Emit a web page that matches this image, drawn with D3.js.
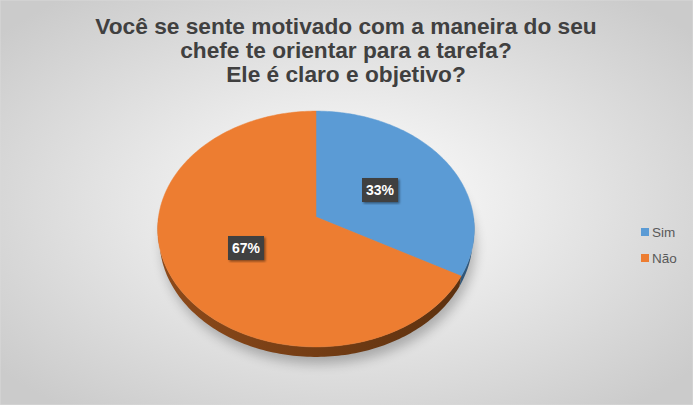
<!DOCTYPE html>
<meta charset="utf-8">
<script src="https://d3js.org/d3.v7.min.js"></script>
<style>
body { margin: 0; }
text { font-family: "Liberation Sans", Arial, sans-serif; }
.titleText { font-size: 22.7px; font-weight: bold; fill: #404040; }
.legend text { font-size: 13.5px; fill: #595959; }
.pctLabel { font-size: 14px; font-weight: bold; fill: #fff; }
</style>
<body>
<div id="chart"></div>
<script>
  // data
  const categories = ["Sim", "Não"];
  const values = [33, 67];
  const colors = ["#5B9BD5", "#ED7D31"];
  const sideColors = [["#3c6e9c", "#2f5679"], ["#8e4a1a", "#5a300f"]];
  const titleLines = ["Você se sente motivado com a maneira do seu", "chefe te orientar para a tarefa?", "Ele é claro e objetivo?"];

  const width = 693, height = 405;

  // fake 3d projection
  const cx = 316, cy = 217;
  const D = 6.6, F = 157.5 * 6.6;
  const phi = 47.8 * Math.PI / 180;
  const depthH = 0.1;

  function project(theta, y) {
    // theta clockwise from the far side (top of screen), y = height (0 top, negative below)
    const X = Math.sin(theta), Z = Math.cos(theta);
    const dep = -y * Math.sin(phi) + Z * Math.cos(phi) + D;
    const v = y * Math.cos(phi) + Z * Math.sin(phi);
    return [cx + F * X / dep, cy - F * v / dep];
  }

  const SVG = d3.select("#chart").append("svg")
    .attr("width", width)
    .attr("height", height);

  const defs = SVG.append("defs");

  const bg = defs.append("radialGradient")
    .attr("id", "bg")
    .attr("cx", "50%").attr("cy", "50%").attr("r", "65%");
  bg.append("stop").attr("offset", "0%").attr("stop-color", "#ffffff");
  bg.append("stop").attr("offset", "100%").attr("stop-color", "#cbcbcb");

  defs.append("filter").attr("id", "blur")
    .attr("x", "-20%").attr("y", "-20%").attr("width", "140%").attr("height", "140%")
    .append("feGaussianBlur").attr("stdDeviation", 6);

  defs.append("filter").attr("id", "lblShadow")
    .append("feDropShadow")
    .attr("dx", 1.5).attr("dy", 1.5).attr("stdDeviation", 1)
    .attr("flood-color", "#000").attr("flood-opacity", 0.45);

  sideColors.forEach((c, i) => {
    const g = defs.append("linearGradient").attr("id", "side" + i)
      .attr("gradientUnits", "userSpaceOnUse")
      .attr("x1", 158).attr("x2", 475).attr("y1", 0).attr("y2", 0);
    g.append("stop").attr("offset", "0%").attr("stop-color", c[0]);
    g.append("stop").attr("offset", "100%").attr("stop-color", c[1]);
  });

  SVG.append("rect")
    .attr("width", width).attr("height", height)
    .attr("fill", "url(#bg)")
    .attr("stroke", "#d9d9d9");

  // title
  SVG.selectAll(".titleText")
    .data(titleLines)
    .enter()
    .append("text")
    .classed("titleText", true)
    .attr("x", 346)
    .attr("y", (d, i) => 34 + i * 24)
    .attr("text-anchor", "middle")
    .text(d => d);

  const pie = d3.pie().sort(null)(values);
  const line = d3.line();

  function arcPts(a0, a1, y) {
    const n = Math.max(4, Math.ceil((a1 - a0) / 0.02));
    return d3.range(n + 1).map(k => project(a0 + (a1 - a0) * k / n, y));
  }

  // shadow under the pie
  const shadowPts = arcPts(0, 2 * Math.PI, -depthH).map(p => [p[0] + 3, p[1] + 7]);
  SVG.append("path")
    .attr("d", line(shadowPts) + "Z")
    .attr("fill", "#000")
    .attr("opacity", 0.25)
    .attr("filter", "url(#blur)");

  // side walls (front half only)
  pie.forEach((s, i) => {
    const a0 = Math.max(s.startAngle, Math.PI / 2);
    const a1 = Math.min(s.endAngle, 3 * Math.PI / 2);
    if (a1 <= a0) return;
    const topPts = arcPts(a0, a1, 0);
    const botPts = arcPts(a0, a1, -depthH).reverse();
    SVG.append("path")
      .attr("d", line(topPts.concat(botPts)) + "Z")
      .attr("fill", "url(#side" + i + ")");
  });

  // top faces
  pie.forEach((s, i) => {
    const pts = [[cx, cy]].concat(arcPts(s.startAngle, s.endAngle, 0));
    SVG.append("path")
      .attr("d", line(pts) + "Z")
      .attr("fill", colors[i])
      .attr("stroke", colors[i])
      .attr("stroke-width", 0.5);
  });

  // data labels
  const total = d3.sum(values);
  const labelPos = [[380, 190], [246, 248]];
  pie.forEach((s, i) => {
    const g = SVG.append("g").attr("transform", "translate(" + labelPos[i] + ")");
    g.append("rect")
      .attr("x", -18).attr("y", -12)
      .attr("width", 36).attr("height", 24)
      .attr("fill", "#404040")
      .attr("filter", "url(#lblShadow)");
    g.append("text")
      .classed("pctLabel", true)
      .attr("text-anchor", "middle")
      .attr("dy", "0.36em")
      .text(Math.round(values[i] / total * 100) + "%");
  });

  // legend
  const legend = SVG.append("g").classed("legend", true)
    .attr("transform", "translate(641,226)");
  const items = legend.selectAll("g")
    .data(categories)
    .enter()
    .append("g")
    .attr("transform", (d, i) => "translate(0," + i * 26 + ")");
  items.append("rect")
    .attr("width", 8).attr("height", 8)
    .attr("y", 2)
    .attr("fill", (d, i) => colors[i]);
  items.append("text")
    .attr("x", 11)
    .attr("y", 11)
    .text(d => d);
</script>
</body>
